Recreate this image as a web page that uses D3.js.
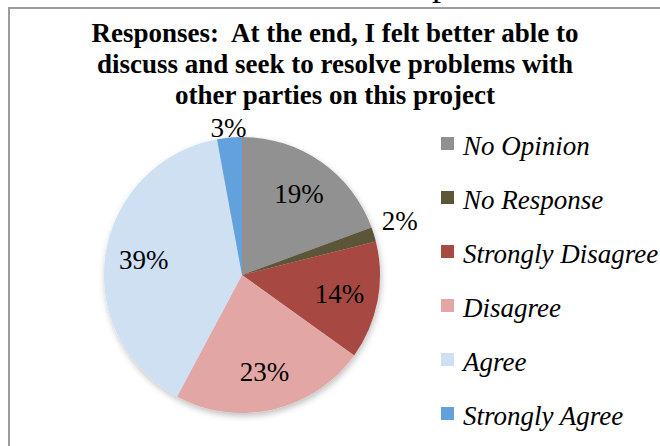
<!DOCTYPE html>
<html>
<head>
<meta charset="utf-8">
<script src="https://cdn.jsdelivr.net/npm/d3@7"></script>
<style>
  html, body { margin: 0; padding: 0; background: #fff; }
</style>
</head>
<body>
<div id="chart"></div>
<script>
// categories and values (percent of responses)
const categories = ['No Opinion', 'No Response', 'Strongly Disagree', 'Disagree', 'Agree', 'Strongly Agree'];
const values = [19.4, 1.7, 13.8, 22.9, 39.3, 2.9];
const colors = ['#919191', '#5d5537', '#a74a43', '#e2a7a4', '#cfe0f3', '#63a1dd'];
const titleLines = [
  'Responses:\u00a0 At the end, I felt better able to',
  'discuss and seek to resolve problems with',
  'other parties on this project'
];

const width = 660, height = 446;
const cx = 242, cy = 275, r = 138;
const serif = '"Liberation Serif"';

const svg = d3.select('#chart')
  .append('svg')
  .attr('width', width)
  .attr('height', height);

// shadow under the pie
const defs = svg.append('defs');
const shadow = defs.append('filter').attr('id', 'shadow')
  .attr('x', '-20%').attr('y', '-20%').attr('width', '140%').attr('height', '140%');
shadow.append('feDropShadow')
  .attr('dx', 1).attr('dy', 3).attr('stdDeviation', 3)
  .attr('flood-color', '#000').attr('flood-opacity', 0.25);

// the chart frame runs off the right and bottom of the picture
svg.append('rect')
  .attr('x', 9).attr('y', 8)
  .attr('width', 700).attr('height', 500)
  .attr('fill', 'none')
  .attr('stroke', '#9c9c9c')
  .attr('stroke-width', 2);

// tail of a heading cut off above the frame
svg.append('text')
  .attr('x', 432).attr('y', -5)
  .style('font-family', serif)
  .attr('font-size', 36)
  .text('p');

// title
svg.append('g')
  .selectAll('text')
  .data(titleLines)
  .enter()
  .append('text')
  .attr('x', 335)
  .attr('y', (d, i) => 42 + i * 31)
  .attr('text-anchor', 'middle')
  .style('font-family', serif)
  .attr('font-size', 27)
  .attr('font-weight', 'bold')
  .text((d) => d);

const pie = d3.pie().sort(null).value((d) => d);
const arcs = pie(values);
const arc = d3.arc().innerRadius(0).outerRadius(r);

const g = svg.append('g').attr('transform', `translate(${cx},${cy})`);

g.append('g')
  .attr('filter', 'url(#shadow)')
  .selectAll('path')
  .data(arcs)
  .enter()
  .append('path')
  .attr('d', arc)
  .attr('fill', (d, i) => colors[i]);

// data labels: inside for big slices, just outside for small ones
const inner = d3.arc().innerRadius(r * 0.72).outerRadius(r * 0.72);
g.append('g')
  .selectAll('text')
  .data(arcs)
  .enter()
  .append('text')
  .attr('transform', (d) => {
    if (d.data >= 5) return `translate(${inner.centroid(d)})`;
    const a = (d.startAngle + d.endAngle) / 2;
    const s = Math.abs(Math.sin(a));
    const dist = r + 8 + s * 20;
    return `translate(${Math.sin(a) * dist},${-Math.cos(a) * dist - s * 6})`;
  })
  .attr('text-anchor', 'middle')
  .attr('dy', '0.35em')
  .style('font-family', serif)
  .attr('font-size', 27)
  .text((d) => `${Math.round(d.data)}%`);

// legend
const legend = svg.append('g')
  .selectAll('g')
  .data(categories)
  .enter()
  .append('g')
  .attr('transform', (d, i) => `translate(441,${137 + i * 54})`);

legend.append('rect')
  .attr('width', 13).attr('height', 13)
  .attr('fill', (d, i) => colors[i]);

legend.append('text')
  .attr('x', 22)
  .attr('y', 18)
  .style('font-family', serif)
  .attr('font-size', 27)
  .attr('font-style', 'italic')
  .text((d) => d);
</script>
</body>
</html>
